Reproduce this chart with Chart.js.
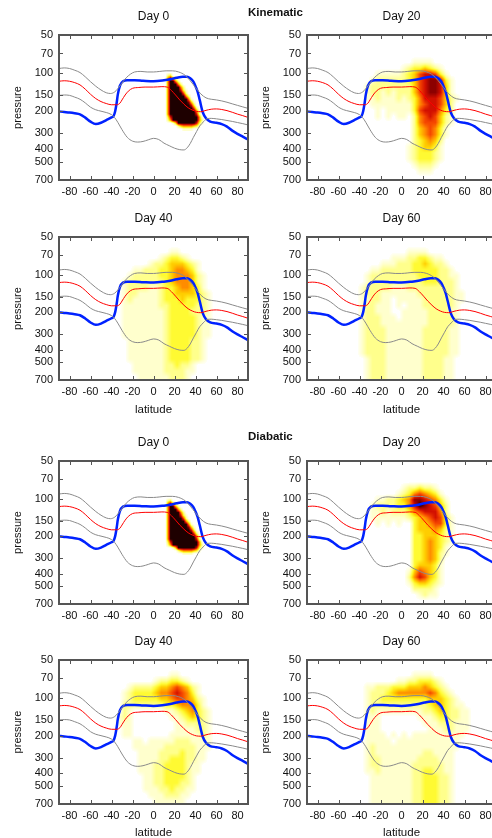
<!DOCTYPE html>
<html>
<head>
<meta charset="utf-8">
<script src="https://cdn.jsdelivr.net/npm/chart.js@4.4.1/dist/chart.umd.min.js"></script>
<style>
    html, body { margin: 0; padding: 0; background: #fff; overflow: hidden; width: 492px; height: 838px; }
    .panel { position: absolute; width: 250px; height: 218px; }
    .group { position: absolute; z-index: 5; font: bold 11.5px "Liberation Sans", Arial, sans-serif; color: #111; }
</style>
</head>
<body>
<div id="wrap"></div>
<div class="group" style="left:248px; top:6px;">Kinematic</div>
<div class="group" style="left:248px; top:430px;">Diabatic</div>
<script>
// axes
const xTicks = [-80, -60, -40, -20, 0, 20, 40, 60, 80];
const yTicks = [50, 70, 100, 150, 200, 300, 400, 500, 700];
const dayLabels = ['Day 0', 'Day 20', 'Day 40', 'Day 60'];

// background lines (latitude, pressure)
const grayTopLat = [-90,-85,-80,-75,-70,-65,-60,-55,-50,-45,-41,-37,-34,-30,-26,-22,-18,-12,-6,0,6,12,18,24,30,35,40,45,50,55,60,65,70,75,80,85,90];
const grayTopPres = [92,91,92,95,99,107,117,127,136,143,145,141,133,120,109,102,98,97,98,98,97,96,96,98,104,115,130,146,157,161,163,166,170,175,180,185,190];

const grayBotLat = [-90,-85,-80,-75,-70,-65,-60,-55,-50,-45,-40,-37,-34,-30,-25,-20,-15,-10,-5,0,5,10,15,20,25,29,32,35,38,41,44,48,51,55,60,65,70,75,80,85,90];
const grayBotPres = [150,149,150,155,161,172,186,195,200,205,213,225,245,280,322,345,351,347,337,328,335,358,375,392,403,405,390,360,322,290,262,241,229,228,230,233,237,241,246,251,257];

const redLat = [-90,-85,-80,-75,-70,-65,-60,-55,-50,-45,-40,-35,-32,-30,-27,-24,-20,-14,-8,0,8,13,17,21,25,29,33,37,41,45,50,55,60,65,70,75,80,85,90];
const redPres = [116,115,116,119,124,134,147,159,168,174,178,178,173,163,149,139,132,130,129,129,128,129,137,149,163,176,188,196,201,202,197,193,192,194,198,204,211,217,224];

const blueLat = [-90,-85,-80,-75,-70,-65,-60,-55,-50,-45,-40,-38,-36.5,-35,-34,-32,-29,-25,-18,-10,0,10,16,22,28,32,35,38,40,42,44,47,50,54,60,65,70,75,80,85,90];
const bluePres = [201,203,205,208,212,225,242,253,247,235,224,218,200,170,148,126,116,114,114,115,116,114,112,109,107,107,110,117,127,140,163,205,228,242,247,253,265,285,302,318,335];

// tracer density, rows from top (low pressure) down, [first column, values 0-9]
// day 0: lat 10..50 in 2.5 deg columns, pressure 96..285 hPa in 20 log rows
const day0Rows = [
    [0, ''], [1, '23'], [1, '5841'], [1, '59952'], [1, '599952'],
    [1, '5999952'], [1, '59999731'], [1, '59999962'], [1, '599999952'], [1, '5999999951'],
    [1, '59999999841'], [1, '59999999973'], [1, '599999999962'], [1, '5999999999951'], [1, '5999999999972'],
    [1, '37999999999951'], [1, '25999999999952'], [3, '149999999731'], [5, '245555431'], [7, '1111'],
];
// later days: lat -50..70 in 5 deg columns, pressure 50..700 hPa in 24 log rows
const kin20Rows = [
    [0, ''], [0, ''], [0, ''], [0, ''], [12, '1111'], [10, '12334321'],
    [5, '11111234677631'], [4, '1222222346788731'], [3, '12222222246788741'], [3, '12212122246788741'],
    [3, '112111212357776421'], [4, '1111111135677642'], [5, '101111136777532'], [5, '101011025676421'],
    [12, '25666421'], [12, '2456531'], [12, '2456531'], [12, '234542'], [11, '1234431'],
    [11, '1233321'], [11, '1233321'], [12, '12221'], [13, '111'], [0, ''],
];
const kin40Rows = [
    [0, ''], [0, ''], [13, '11'], [11, '123321'], [9, '1223444321'], [6, '1122233455431'],
    [5, '122222334555421'], [4, '1222222234555421'], [4, '1222211233455431'], [4, '12211112334444321'],
    [4, '12111112333433321'], [4, '11111112233333221'], [4, '11111111233332221'],
    [4, '11111111233333211'], [4, '11111111233333211'], [4, '11111111233333211'], [4, '11111111233333211'],
    [5, '111111123333221'], [5, '111111123333221'], [5, '111111123333221'], [5, '111111123333221'],
    [6, '111111223221'], [6, '111111222211'], [7, '1111112221'],
];
const kin60Rows = [
    [0, ''], [0, ''], [11, '1111'], [8, '1112233211'], [6, '1112223343221'], [4, '1122222233333221'],
    [3, '122222222233332211'], [3, '122222222223332221'], [2, '1222221112222222221'], [2, '12221111111222222211'],
    [2, '11221101111122222211'], [2, '1221110101112222221'], [2, '1221110011111222211'], [2, '1222111011111222221'],
    [2, '1222111111111222221'], [2, '1222211111112222211'], [2, '1222211111112222211'], [2, '1222211111112222211'],
    [2, '1222211111112222211'], [2, '1222211111112222211'], [3, '12221111111222211'], [3, '12221111111222211'],
    [3, '12221111111222211'], [3, '12221111111222211'],
];
const dia20Rows = [
    [0, ''], [0, ''], [0, ''], [0, ''], [10, '1223221'], [9, '123565431'],
    [5, '11223458876531'], [4, '122223357987642'], [4, '112122235677752'], [4, '1111111234567631'],
    [5, '101010034456631'], [12, '34445421'], [12, '33444321'], [12, '33454321'], [12, '3345431'],
    [12, '3345421'], [12, '334542'], [12, '344431'], [11, '1465431'], [11, '2576431'],
    [11, '1344321'], [12, '22221'], [13, '1211'], [0, ''],
];
const dia40Rows = [
    [0, ''], [0, ''], [13, '11'], [10, '1223321'], [5, '12222344565421'], [4, '123333455676531'],
    [4, '1233333445665421'], [4, '2222222233455531'], [4, '21000000112345321'], [3, '121000000011234321'],
    [3, '111000000001122221'], [4, '11000000001111221'], [4, '11000000011111121'], [6, '110111112221111'],
    [6, '111111222222111'], [7, '1111222232211'], [7, '1111223332211'], [7, '111223333211'],
    [7, '111223333211'], [8, '1122333321'], [8, '1122333221'], [8, '1112232211'], [9, '11122211'], [10, '111111'],
];
const dia60Rows = [
    [0, ''], [0, ''], [12, '1111'], [9, '112233321'], [3, '1122233344454321'], [3, '12223455555565321'],
    [3, '122333333333444321'], [3, '1222222222223443211'], [3, '12111111111223432211'], [3, '11100000001112332211'],
    [3, '11100000000111222111'], [3, '11100000000011122111'], [3, '1111010101111111111'], [3, '111110111111111111'],
    [3, '121111111111111111'], [3, '12111111111221111'], [3, '12211111112222111'], [3, '12211111122222211'],
    [3, '11211111122332211'], [4, '1111111122333221'], [4, '1111111122333221'], [4, '1111111122333221'],
    [4, '1111111122333221'], [4, '1111111122333221'],
];

const heatColors = [
    [255, 255, 255], [255, 255, 205], [255, 255, 140], [255, 250, 50], [255, 205, 0],
    [255, 140, 0], [245, 70, 0], [210, 15, 0], [140, 0, 0], [30, 0, 0],
];

const font = '"Liberation Sans", Arial, Helvetica, sans-serif';

const day0 = { lat: [10, 50], pres: [96, 285], cols: 16, rows: day0Rows };
const wide = (rows) => ({ lat: [-50, 70], pres: [50, 700], cols: 24, rows: rows });
const groups = [
    [day0, wide(kin20Rows), wide(kin40Rows), wide(kin60Rows)],
    [day0, wide(dia20Rows), wide(dia40Rows), wide(dia60Rows)],
];

function heatColor(v) {
    v = Math.max(0, Math.min(9, v));
    const i = Math.min(8, Math.floor(v));
    const t = v - i;
    const a = heatColors[i], b = heatColors[i + 1];
    return [a[0] + (b[0] - a[0]) * t, a[1] + (b[1] - a[1]) * t, a[2] + (b[2] - a[2]) * t];
}

function heatPlugin(field) {
    const nc = field.cols, nr = field.rows.length;
    const grid = field.rows.map(([s, d]) => {
        const a = new Array(nc).fill(0);
        for (let i = 0; i < d.length; i++) a[s + i] = +d[i];
        return a;
    });
    return {
        id: 'heat',
        beforeDatasetsDraw(chart) {
            const { left, top, right, bottom } = chart.chartArea;
            const xs = chart.scales.x, ys = chart.scales.y;
            const w = Math.round(right - left), h = Math.round(bottom - top);
            const off = document.createElement('canvas');
            off.width = w; off.height = h;
            const octx = off.getContext('2d');
            const img = octx.createImageData(w, h);
            const lp0 = Math.log(field.pres[0]), lp1 = Math.log(field.pres[1]);
            const dlat = (field.lat[1] - field.lat[0]) / nc;
            for (let j = 0; j < h; j++) {
                const p = ys.getValueForPixel(top + j + 0.5);
                let gy = (Math.log(p) - lp0) / (lp1 - lp0) * nr - 0.5;
                if (gy < -0.5 || gy > nr - 0.5) continue;
                gy = Math.max(0, Math.min(nr - 1, gy));
                const r0 = Math.floor(gy), r1 = Math.min(r0 + 1, nr - 1), ty = gy - r0;
                for (let i = 0; i < w; i++) {
                    const lat = xs.getValueForPixel(left + i + 0.5);
                    let gx = (lat - field.lat[0]) / dlat - 0.5;
                    if (gx < -0.5 || gx > nc - 0.5) continue;
                    gx = Math.max(0, Math.min(nc - 1, gx));
                    const c0 = Math.floor(gx), c1 = Math.min(c0 + 1, nc - 1), tx = gx - c0;
                    const top2 = grid[r0][c0] * (1 - tx) + grid[r0][c1] * tx;
                    const bot2 = grid[r1][c0] * (1 - tx) + grid[r1][c1] * tx;
                    const v = top2 * (1 - ty) + bot2 * ty;
                    if (v < 0.2) continue;
                    const c = heatColor(v);
                    const k = (j * w + i) * 4;
                    img.data[k] = c[0]; img.data[k + 1] = c[1]; img.data[k + 2] = c[2]; img.data[k + 3] = 255;
                }
            }
            octx.putImageData(img, 0, 0);
            chart.ctx.drawImage(off, left, top);
        }
    };
}

function framePlugin(title) {
    return {
        id: 'frame',
        afterDatasetsDraw(chart) {
            const { ctx, chartArea: a, scales: { x, y } } = chart;
            ctx.save();
            ctx.strokeStyle = '#555';
            ctx.lineWidth = 1;
            ctx.beginPath();
            xTicks.forEach(v => {
                const px = Math.round(x.getPixelForValue(v)) + 0.5;
                ctx.moveTo(px, a.bottom); ctx.lineTo(px, a.bottom - 4);
                ctx.moveTo(px, a.top); ctx.lineTo(px, a.top + 4);
            });
            yTicks.forEach(v => {
                const py = Math.round(y.getPixelForValue(v)) + 0.5;
                ctx.moveTo(a.left, py); ctx.lineTo(a.left + 4, py);
                ctx.moveTo(a.right, py); ctx.lineTo(a.right - 4, py);
            });
            ctx.stroke();
            ctx.lineWidth = 2;
            ctx.strokeRect(a.left, a.top, a.right - a.left, a.bottom - a.top);
            ctx.fillStyle = '#111';
            ctx.font = '12px ' + font;
            ctx.textAlign = 'center';
            ctx.textBaseline = 'middle';
            ctx.fillText(title, (a.left + a.right) / 2, a.top - 18.5);
            ctx.restore();
        }
    };
}

function lineSet(lat, pres, color, width) {
    return {
        data: lat.map((v, i) => ({ x: v, y: pres[i] })),
        borderColor: color,
        borderWidth: width,
        pointRadius: 0,
        fill: false,
        cubicInterpolationMode: 'monotone',
    };
}

const colLeft = [0, 248];
const rowTop = [0, 202, 426, 625];
const plotH = [145, 143, 143, 144];
const wrap = document.getElementById('wrap');

for (let r = 0; r < 4; r++) {
    for (let c = 0; c < 2; c++) {
        const day = (r % 2) * 2 + c;
        const field = groups[r < 2 ? 0 : 1][day];
        const withLat = r % 2 === 1;
        const div = document.createElement('div');
        div.className = 'panel';
        div.style.left = colLeft[c] + 'px';
        div.style.top = rowTop[r] + 'px';
        const canvas = document.createElement('canvas');
        canvas.width = 250;
        canvas.height = 218;
        div.appendChild(canvas);
        wrap.appendChild(div);

        new Chart(canvas, {
            type: 'line',
            data: {
                datasets: [
                    lineSet(grayTopLat, grayTopPres, '#8a8a8a', 1),
                    lineSet(grayBotLat, grayBotPres, '#8a8a8a', 1),
                    lineSet(redLat, redPres, '#ff0000', 1),
                    lineSet(blueLat, bluePres, '#0022ff', 2.5),
                ],
            },
            options: {
                responsive: false,
                animation: false,
                events: [],
                layout: { padding: { top: 35, left: 0, right: 2, bottom: 0 } },
                plugins: { legend: { display: false }, tooltip: { enabled: false } },
                scales: {
                    x: {
                        type: 'linear',
                        min: -90,
                        max: 90,
                        afterBuildTicks: s => { s.ticks = xTicks.map(v => ({ value: v })); },
                        afterFit: s => { s.height = 218 - 35 - plotH[r]; },
                        grid: { display: false, drawTicks: false },
                        border: { display: false },
                        ticks: { autoSkip: false, maxRotation: 0, padding: 5, color: '#111', font: { family: font, size: 11 } },
                        title: { display: withLat, text: 'latitude', color: '#111', font: { family: font, size: 11.5 }, padding: { top: 0, bottom: 3 } },
                    },
                    y: {
                        type: 'logarithmic',
                        reverse: true,
                        min: 50,
                        max: 700,
                        afterBuildTicks: s => { s.ticks = yTicks.map(v => ({ value: v })); },
                        afterFit: s => { s.width = 59; },
                        grid: { display: false, drawTicks: false },
                        border: { display: false },
                        ticks: { autoSkip: false, padding: 6, color: '#111', font: { family: font, size: 11 }, callback: v => String(v) },
                        title: { display: true, text: 'pressure', color: '#111', font: { family: font, size: 11 }, padding: { top: 11, bottom: 0 } },
                    },
                },
            },
            plugins: [heatPlugin(field), framePlugin(dayLabels[day])],
        });
    }
}
</script>
</body>
</html>
